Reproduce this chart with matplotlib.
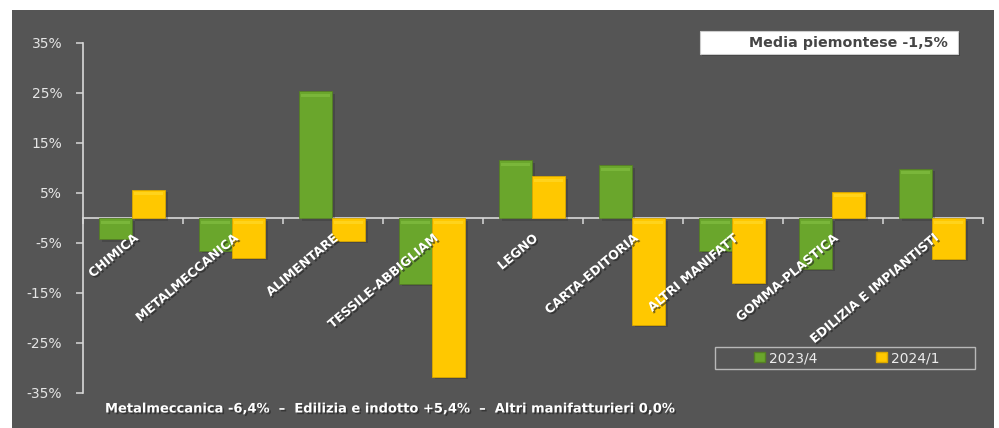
import matplotlib
matplotlib.use("Agg")
import matplotlib.pyplot as plt
import matplotlib.patheffects as pe
from matplotlib.patches import Rectangle, Patch
import numpy as np

# Sector data (% change)
categories = ["CHIMICA", "METALMECCANICA", "ALIMENTARE", "TESSILE-ABBIGLIAM", "LEGNO",
              "CARTA-EDITORIA", "ALTRI MANIFATT", "GOMMA-PLASTICA", "EDILIZIA E IMPIANTISTI"]
series_names = ["2023/4", "2024/1"]
q2023_4 = [-4.2, -6.5, 25.4, -13.1, 11.6, 10.6, -6.5, -10.1, 9.9]
q2024_1 = [5.7, -7.9, -4.5, -31.7, 8.4, -21.3, -12.9, 5.3, -8.1]
yticks = [35, 25, 15, 5, -5, -15, -25, -35]
ytick_labels = ["35%", "25%", "15%", "5%", "-5%", "-15%", "-25%", "-35%"]
media_label = "Media piemontese -1,5%"
footer = "Metalmeccanica -6,4%  \u2013  Edilizia e indotto +5,4%  \u2013  Altri manifatturieri 0,0%"

W, H = 999, 428
BG = "#555555"
GREEN = "#6aa62c"
GREEN_HI = "#86c244"
GREEN_ED = "#557f24"
YELLOW = "#ffc800"
YELLOW_HI = "#ffdc30"
YELLOW_ED = "#d9a800"
AXIS = "#d8d8d8"

plt.rcParams["font.family"] = ["DejaVu Sans"]

fig = plt.figure(figsize=(W / 100, H / 100), dpi=100)
fig.patch.set_facecolor("white")
# dark panel behind everything
fig.patches.append(Rectangle((12 / W, 0), (994 - 12) / W, (H - 10) / H,
                             transform=fig.transFigure, facecolor=BG, edgecolor="none", zorder=-10))

ax = fig.add_axes([83 / W, (H - 393) / H, 900 / W, 350 / H])
ax.set_facecolor("none")
ax.set_xlim(-0.5, 8.5)
ax.set_ylim(-35, 35)

x = np.arange(len(categories))
wbar = 0.33
shadow = [pe.SimplePatchShadow(offset=(2, -2), shadow_rgbFace="#2a2a2a", alpha=0.3), pe.Normal()]

for vals, off, col, hi, ed in [(q2023_4, -0.175, GREEN, GREEN_HI, GREEN_ED),
                               (q2024_1, 0.155, YELLOW, YELLOW_HI, YELLOW_ED)]:
    bars = ax.bar(x + off, vals, width=wbar, color=col, edgecolor=ed, linewidth=0.6, zorder=3)
    for b in bars:
        b.set_path_effects(shadow)
    # glossy highlight band along the upper edge of each bar
    tops = np.maximum(np.array(vals), 0)
    ax.bar(x + off, 0.6, bottom=tops - 1.1, width=wbar * 0.86, color=hi, alpha=0.6,
           linewidth=0, zorder=4)

# axes styling
for s in ["top", "right"]:
    ax.spines[s].set_visible(False)
ax.spines["left"].set_color(AXIS)
ax.spines["left"].set_linewidth(1.2)
ax.spines["bottom"].set_position(("data", 0))
ax.spines["bottom"].set_color(AXIS)
ax.spines["bottom"].set_linewidth(1.2)
ax.set_yticks(yticks)
ax.set_yticklabels(ytick_labels)
ax.tick_params(axis="y", colors=AXIS, labelcolor="#e6e6e6", labelsize=10, length=5,
               width=1.1, direction="out", pad=10)
ax.set_xticks(np.arange(-0.5, 9.0, 1.0))
ax.set_xticklabels([])
ax.tick_params(axis="x", colors=AXIS, length=4, width=1.1, direction="out")

txt_shadow = [pe.SimplePatchShadow(offset=(1.2, -1.2), shadow_rgbFace="#222222", alpha=0.6), pe.Normal()]
for i, c in enumerate(categories):
    ax.text(i - 0.01, -2.8, c, rotation=40, rotation_mode="anchor", ha="right", va="top",
            fontsize=9, fontweight="bold", color="white", zorder=6, path_effects=txt_shadow)

# "Media piemontese" box
fig.patches.append(Rectangle((702 / W, 1 - 56 / H), 258 / W, 23 / H, transform=fig.transFigure,
                             facecolor="#222222", alpha=0.4, edgecolor="none", zorder=5))
fig.patches.append(Rectangle((700 / W, 1 - 54 / H), 258 / W, 23 / H, transform=fig.transFigure,
                             facecolor="white", edgecolor="#cccccc", linewidth=0.8, zorder=6))
fig.text(848 / W, 1 - 43 / H, media_label, ha="center", va="center", fontsize=10.3,
         fontweight="bold", color="#454545", zorder=7)

# legend
fig.patches.append(Rectangle((715 / W, 1 - 369 / H), 260 / W, 22 / H, transform=fig.transFigure,
                             facecolor="none", edgecolor="#b8b8b8", linewidth=1.0, zorder=6))
handles = [Patch(facecolor=GREEN, edgecolor=GREEN_ED), Patch(facecolor=YELLOW, edgecolor=YELLOW_ED)]
leg = fig.legend(handles, series_names, loc="center", bbox_to_anchor=(847 / W, 1 - 358 / H),
                 ncol=2, frameon=False, fontsize=10, labelcolor="#ececec",
                 handlelength=0.8, handleheight=0.8, handletextpad=0.3, columnspacing=4.2)

fig.text(105 / W, 1 - 409 / H, footer, ha="left", va="center", fontsize=9.4,
         fontweight="bold", color="white", path_effects=txt_shadow)

fig.savefig("out.png", dpi=100, facecolor="white")
